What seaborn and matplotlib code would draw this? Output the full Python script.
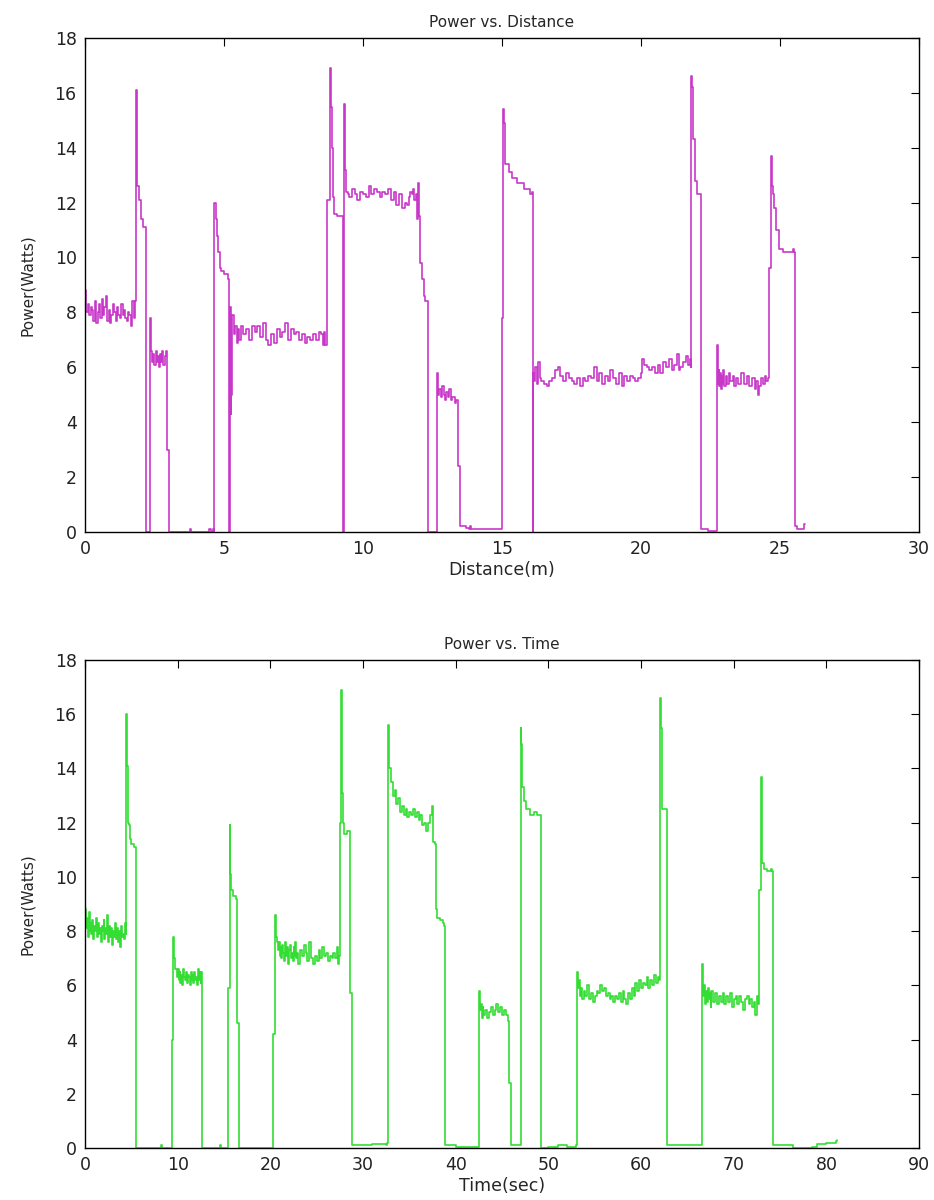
import numpy as np
import pandas as pd
import seaborn as sns
import matplotlib
matplotlib.use('Agg')
import matplotlib.pyplot as plt

# Power vs distance (m)
dist_m = [
    0.00, 0.05, 0.10, 0.15, 0.20, 0.25, 0.30, 0.35, 0.40, 0.45, 0.50, 0.55, 0.60, 0.65, 0.70, 0.75, 0.80, 0.85, 0.90, 0.95,
    1.00, 1.05, 1.10, 1.15, 1.20, 1.25, 1.30, 1.35, 1.40, 1.45, 1.50, 1.55, 1.60, 1.65, 1.70, 1.75, 1.80,
    1.82, 1.86, 1.88, 1.95, 2.00, 2.08, 2.18, 2.20, 2.34, 2.35, 2.38, 2.42, 2.46, 2.50, 2.54, 2.58, 2.62, 2.66, 2.70, 2.74,
    2.78, 2.82, 2.86, 2.90, 2.94, 2.95, 3.00, 3.03,
    3.78, 3.79, 3.80, 4.44, 4.45, 4.50, 4.52, 4.60, 4.63, 4.65, 4.70, 4.74, 4.80, 4.85, 4.90, 5.00, 5.10, 5.15, 5.18, 5.19,
    5.22, 5.23, 5.24, 5.25, 5.26, 5.27, 5.28, 5.30,
    5.35, 5.40, 5.45, 5.50, 5.55, 5.60, 5.70, 5.80, 5.90, 6.00, 6.10, 6.20, 6.30, 6.40, 6.50, 6.60, 6.70, 6.80, 6.90, 7.00,
    7.10, 7.20, 7.30, 7.40, 7.50, 7.60, 7.70, 7.80, 7.90, 8.00, 8.10, 8.20, 8.30, 8.40, 8.50, 8.55, 8.60, 8.65, 8.70,
    8.72, 8.80, 8.84, 8.88, 8.92, 8.96, 9.05, 9.20, 9.27, 9.28, 9.30, 9.31, 9.34, 9.38, 9.45,
    9.50, 9.60, 9.70, 9.80, 9.90, 10.00, 10.10, 10.20, 10.30, 10.40, 10.50, 10.60, 10.70, 10.80, 10.90, 11.00, 11.10,
    11.20, 11.30, 11.40, 11.50, 11.60, 11.65, 11.70, 11.75, 11.80, 11.85, 11.90, 11.95, 11.97, 12.00,
    12.05, 12.12, 12.18, 12.22, 12.30, 12.33, 12.35, 12.66, 12.67, 12.70, 12.75, 12.80, 12.85, 12.90, 12.95, 13.00,
    13.05, 13.10, 13.15, 13.20, 13.30, 13.35, 13.40, 13.42, 13.48, 13.50, 13.60, 13.70, 13.80, 13.85, 13.90, 14.50, 15.00,
    15.01, 15.05, 15.08, 15.12, 15.25, 15.37, 15.55, 15.80, 16.00, 16.08, 16.10, 16.12,
    16.13, 16.15, 16.20, 16.25, 16.30, 16.35, 16.40,
    16.50, 16.60, 16.70, 16.80, 16.90, 17.00, 17.10, 17.20, 17.30, 17.40, 17.50, 17.60, 17.70, 17.80, 17.90, 18.00,
    18.10, 18.20, 18.30, 18.40, 18.50, 18.60, 18.70, 18.80, 18.90, 19.00, 19.10, 19.20, 19.30, 19.40, 19.50, 19.60,
    19.70, 19.80, 19.90, 20.00,
    20.05, 20.10, 20.20, 20.30, 20.40, 20.50, 20.60, 20.70, 20.80, 20.90, 21.00, 21.10, 21.20, 21.30,
    21.35, 21.40, 21.50, 21.60, 21.70, 21.75, 21.78,
    21.80, 21.85, 21.88, 21.95, 22.00, 22.12, 22.14, 22.40, 22.60, 22.73,
    22.74, 22.78, 22.80, 22.82, 22.85, 22.88, 22.90, 22.92, 22.95, 23.00, 23.05, 23.10, 23.15, 23.20, 23.30, 23.35,
    23.40, 23.50, 23.60, 23.70, 23.80, 23.90, 24.00, 24.10, 24.15, 24.20, 24.25, 24.30, 24.40, 24.45, 24.50, 24.58,
    24.60, 24.67, 24.70, 24.75, 24.80, 24.85, 24.95, 25.10, 25.30, 25.45, 25.50, 25.52, 25.60, 25.85, 25.87, 25.90,
]
dist_power = [
    8.8, 8.0, 8.3, 7.9, 8.2, 8.1, 7.7, 8.4, 7.6, 8.0, 8.3, 7.8, 8.5, 7.9, 8.2, 8.6, 7.7, 8.1, 7.6, 7.9,
    8.3, 8.0, 7.7, 8.2, 7.9, 7.8, 8.3, 7.9, 8.1, 7.8, 7.7, 8.0, 7.9, 7.5, 8.4, 7.8, 8.4,
    16.1, 15.3, 12.6, 12.1, 11.4, 11.1, 11.1, 0.0, 0.0, 7.8, 6.6, 6.2, 6.5, 6.1, 6.6, 6.2, 6.4, 6.0, 6.5, 6.2,
    6.6, 6.1, 6.4, 6.6, 6.2, 3.0, 3.0, 0.0,
    0.0, 0.1, 0.0, 0.0, 0.1, 0.1, 0.0, 0.1, 0.0, 12.0, 11.4, 10.8, 10.2, 9.6, 9.5, 9.4, 9.4, 9.2, 9.2, 0.0,
    0.0, 8.2, 4.3, 7.8, 5.0, 7.6, 6.5, 7.9,
    7.2, 7.5, 6.9, 7.4, 7.0, 7.5, 7.2, 7.4, 7.0, 7.5, 7.3, 7.5, 7.1, 7.6, 7.0, 6.8, 7.2, 6.9, 7.4, 7.1,
    7.3, 7.6, 7.0, 7.4, 7.2, 7.3, 7.0, 7.2, 6.9, 7.1, 7.0, 7.2, 7.0, 7.3, 7.2, 6.8, 7.3, 6.8, 7.1,
    12.1, 16.9, 15.5, 14.0, 12.2, 11.6, 11.5, 11.5, 11.4, 0.0, 0.0, 15.6, 13.2, 12.4, 12.3,
    12.2, 12.5, 12.3, 12.1, 12.4, 12.3, 12.2, 12.6, 12.3, 12.5, 12.4, 12.2, 12.4, 12.3, 12.5, 12.1, 12.4,
    11.9, 12.3, 11.8, 12.0, 11.9, 12.2, 12.4, 12.3, 12.5, 12.1, 12.3, 11.4, 12.7, 11.5,
    9.8, 9.2, 8.6, 8.4, 8.4, 8.3, 0.0, 0.0, 5.8, 5.0, 5.2, 4.9, 5.3, 5.0, 4.8, 5.1,
    4.9, 5.2, 4.8, 4.9, 4.7, 4.8, 4.6, 2.4, 2.4, 0.2, 0.2, 0.15, 0.1, 0.2, 0.1, 0.1, 0.1,
    7.8, 15.4, 14.9, 13.4, 13.1, 12.9, 12.7, 12.5, 12.3, 12.4, 0.0, 0.0,
    5.8, 5.5, 6.0, 5.4, 6.2, 5.6, 5.5,
    5.4, 5.3, 5.5, 5.6, 5.9, 6.0, 5.7, 5.5, 5.8, 5.6, 5.5, 5.4, 5.6, 5.3, 5.6, 5.5,
    5.7, 5.6, 6.0, 5.5, 5.8, 5.4, 5.7, 5.5, 5.9, 5.6, 5.4, 5.8, 5.3, 5.7, 5.5, 5.7,
    5.6, 5.5, 5.6, 5.8,
    6.3, 6.1, 6.0, 5.9, 6.0, 5.8, 6.1, 5.8, 6.2, 6.0, 6.3, 5.9, 6.1, 6.5,
    5.9, 6.0, 6.2, 6.4, 6.1, 6.3, 6.0,
    16.6, 16.2, 14.3, 12.8, 12.3, 12.3, 0.1, 0.05, 0.05, 0.1,
    6.8, 5.4, 5.9, 5.3, 5.8, 5.2, 5.7, 5.4, 5.9, 5.3, 5.7, 5.4, 5.8, 5.5, 5.7, 5.3,
    5.6, 5.4, 5.8, 5.4, 5.7, 5.3, 5.6, 5.2, 5.5, 5.0, 5.3, 5.6, 5.4, 5.7, 5.5, 5.6,
    9.6, 13.7, 12.6, 12.3, 11.8, 11.0, 10.3, 10.2, 10.2, 10.3, 10.2, 0.2, 0.1, 0.1, 0.3, 0.3,
]

# Power vs time (sec)
time_s = [
    0.0, 0.1, 0.2, 0.3, 0.4, 0.5, 0.6, 0.7, 0.8, 0.9, 1.0, 1.1, 1.2, 1.3, 1.4, 1.5, 1.6, 1.7, 1.8, 1.9,
    2.0, 2.1, 2.2, 2.3, 2.4, 2.5, 2.6, 2.7, 2.8, 2.9, 3.0, 3.1, 3.2, 3.3, 3.4, 3.5, 3.6, 3.7, 3.8, 3.9,
    4.0, 4.1, 4.2, 4.3, 4.4,
    4.45, 4.55, 4.62, 4.75, 4.85, 5.00, 5.30, 5.45, 5.50, 8.20, 8.25, 8.30, 9.30, 9.35, 9.50, 9.55, 9.65, 9.75,
    9.9, 10.0, 10.1, 10.2, 10.3, 10.4, 10.5, 10.6, 10.7, 10.8, 10.9, 11.0, 11.1, 11.2, 11.3, 11.4, 11.5, 11.6,
    11.7, 11.8, 11.9, 12.0, 12.1, 12.2, 12.3, 12.4, 12.5, 12.55, 12.60, 14.60, 14.62, 14.65, 15.35,
    15.40, 15.55, 15.60, 15.70, 15.80, 16.00, 16.30, 16.40, 16.60, 16.65, 20.20, 20.25, 20.30, 20.45, 20.50, 20.60, 20.70,
    20.8, 20.9, 21.0, 21.1, 21.2, 21.3, 21.4, 21.5, 21.6, 21.7, 21.8, 21.9, 22.0, 22.1, 22.2, 22.3, 22.4, 22.5,
    22.6, 22.7, 22.8, 22.9, 23.0,
    23.2, 23.4, 23.6, 23.8, 24.0, 24.2, 24.4, 24.6, 24.8, 25.0, 25.2, 25.4, 25.6, 25.8, 26.0, 26.2, 26.4, 26.6,
    26.8, 27.0, 27.2, 27.30, 27.45,
    27.50, 27.60, 27.65, 27.75, 27.85, 28.00, 28.30, 28.55, 28.60, 28.75, 28.80, 30.00, 31.00, 32.50, 32.60,
    32.70, 32.85, 33.00, 33.2, 33.4, 33.6, 33.8, 34.0, 34.2, 34.4, 34.6, 34.8, 35.0, 35.2, 35.4, 35.6, 35.8, 36.0,
    36.2, 36.4, 36.6, 36.8, 37.0, 37.2, 37.4,
    37.50, 37.60, 37.75, 37.85, 38.00, 38.30, 38.60, 38.70, 38.80, 40.00, 42.40,
    42.50, 42.60, 42.70, 42.80, 42.90, 43.00, 43.2, 43.4, 43.6, 43.8, 44.0, 44.2, 44.4, 44.6, 44.8, 45.0, 45.2,
    45.4, 45.6, 45.75, 45.80, 45.95, 46.00, 46.95,
    47.00, 47.10, 47.20, 47.35, 47.60, 48.00, 48.40, 48.80, 49.10, 49.20, 50.00, 51.00, 52.00, 53.00,
    53.05, 53.20, 53.30, 53.40, 53.50, 53.60, 53.80,
    54.0, 54.2, 54.4, 54.6, 54.8, 55.0, 55.2, 55.4, 55.6, 55.8, 56.0, 56.2, 56.4, 56.6, 56.8, 57.0, 57.2, 57.4,
    57.6, 57.8, 58.0, 58.2, 58.4, 58.6, 58.8, 59.0, 59.2, 59.4, 59.6, 59.8, 60.0, 60.2, 60.4, 60.6, 60.8, 61.0,
    61.2, 61.4, 61.6, 61.8, 61.95,
    62.00, 62.20, 62.30, 62.65, 62.75, 64.00, 66.50,
    66.60, 66.70, 66.80, 66.90, 67.00, 67.10, 67.20, 67.30, 67.40, 67.50, 67.60,
    67.8, 68.0, 68.2, 68.4, 68.6, 68.8, 69.0, 69.2, 69.4, 69.6, 69.8, 70.0, 70.2, 70.4, 70.6, 70.8, 71.0, 71.2,
    71.4, 71.6, 71.8, 72.0, 72.2, 72.30, 72.50, 72.65,
    72.70, 72.85, 72.90, 73.00, 73.10, 73.30, 73.60, 74.00, 74.10, 74.20, 76.30, 76.40, 78.50, 79.00, 80.00,
    81.00, 81.10,
]
time_power = [
    8.8, 8.1, 8.5, 7.8, 8.7, 8.0, 8.3, 7.9, 8.4, 7.7, 8.2, 8.0, 8.5, 7.8, 8.3, 7.9, 8.1, 7.6, 8.2, 8.0,
    8.4, 7.7, 8.1, 7.9, 8.6, 7.6, 8.2, 7.8, 8.1, 7.5, 8.0, 7.8, 8.3, 7.7, 7.9, 8.1, 7.6, 8.0, 7.4, 8.2,
    7.8, 7.9, 7.7, 8.3, 7.9,
    16.0, 14.1, 12.0, 11.9, 11.4, 11.2, 11.1, 11.0, 0.0, 0.0, 0.1, 0.0, 0.0, 4.0, 4.0, 7.8, 7.0, 6.6,
    6.3, 6.6, 6.2, 6.5, 6.1, 6.4, 6.0, 6.6, 6.3, 6.2, 6.5, 6.1, 6.4, 6.3, 6.0, 6.5, 6.2, 6.4,
    6.1, 6.5, 6.2, 6.3, 6.0, 6.6, 6.2, 6.5, 6.1, 6.5, 0.0, 0.0, 0.1, 0.0, 0.0,
    5.9, 5.9, 11.9, 10.1, 9.5, 9.3, 9.2, 4.6, 4.6, 0.0, 0.0, 0.3, 4.2, 4.2, 8.6, 7.8, 7.6,
    7.3, 7.6, 7.1, 7.4, 7.0, 7.5, 7.2, 6.9, 7.6, 7.1, 7.4, 6.8, 7.3, 7.5, 7.0, 7.2, 6.9, 7.4,
    7.1, 7.6, 7.0, 7.2, 6.8,
    7.3, 7.1, 7.5, 7.2, 6.9, 7.6, 7.0, 6.8, 7.1, 6.9, 7.3, 7.0, 7.4, 7.1, 7.2, 6.9, 7.1, 7.0,
    7.2, 7.0, 7.4, 6.8, 7.1,
    12.0, 12.0, 16.9, 13.1, 12.0, 11.6, 11.7, 11.6, 5.7, 5.7, 0.1, 0.1, 0.15, 0.1, 0.2,
    15.6, 14.0, 13.5, 13.0, 13.2, 12.7, 12.9, 12.4, 12.6, 12.3, 12.5, 12.2, 12.4, 12.3, 12.5, 12.2, 12.4, 12.1,
    12.3, 11.9, 12.0, 11.7, 12.0, 12.3, 12.6,
    12.6, 11.3, 11.2, 8.8, 8.5, 8.4, 8.3, 8.2, 0.1, 0.05, 0.05,
    5.8, 5.1, 5.3, 4.8, 5.2, 4.9, 5.1, 4.8, 5.0, 5.2, 4.9, 5.1, 5.3, 5.0, 5.2, 4.9, 5.1,
    4.9, 4.7, 4.5, 2.4, 2.4, 0.1, 0.1,
    15.5, 14.9, 13.3, 12.8, 12.5, 12.3, 12.4, 12.3, 12.3, 0.0, 0.05, 0.1, 0.05, 0.1,
    6.5, 5.9, 6.2, 5.6, 5.9, 5.5, 5.8,
    5.6, 6.0, 5.5, 5.7, 5.4, 5.6, 5.8, 5.7, 6.0, 5.8, 5.9, 5.6, 5.7, 5.5, 5.6, 5.4, 5.6, 5.5,
    5.7, 5.4, 5.8, 5.5, 5.3, 5.7, 5.5, 5.9, 5.6, 6.1, 5.8, 6.2, 5.9, 6.1, 6.0, 6.3, 5.9, 6.2,
    6.0, 6.4, 6.1, 6.3, 6.2,
    16.6, 15.5, 12.5, 12.5, 0.1, 0.1, 0.1,
    6.8, 5.6, 6.0, 5.3, 5.8, 5.4, 5.9, 5.5, 5.7, 5.2, 5.8,
    5.4, 5.7, 5.3, 5.6, 5.4, 5.7, 5.3, 5.6, 5.4, 5.7, 5.2, 5.5, 5.6, 5.3, 5.6, 5.4, 5.1, 5.5,
    5.6, 5.3, 5.5, 5.2, 5.4, 4.9, 5.6, 5.3,
    9.5, 9.5, 13.7, 12.0, 10.5, 10.3, 10.2, 10.3, 10.2, 0.1, 0.1, 0.0, 0.05, 0.15, 0.2,
    0.25, 0.3,
]

assert len(dist_m) == len(dist_power)
assert len(time_s) == len(time_power)

dist_df = pd.DataFrame({'Distance': dist_m, 'Power': dist_power})
time_df = pd.DataFrame({'Time': time_s, 'Power': time_power})

sns.set_style('white')
plt.rcParams['font.family'] = ['DejaVu Sans']

fig = plt.figure(figsize=(9.34, 12), dpi=100)
ax1 = fig.add_axes([0.091, 0.5567, 0.893, 0.4117])
ax2 = fig.add_axes([0.091, 0.0433, 0.893, 0.4067])

# sampled signal -> draw it as held steps like the original trace
sns.lineplot(data=dist_df, x='Distance', y='Power', ax=ax1, sort=False, estimator=None,
             color='#c838c8', linewidth=1.2, drawstyle='steps-post')
sns.lineplot(data=time_df, x='Time', y='Power', ax=ax2, sort=False, estimator=None,
             color='#33dd33', linewidth=1.2, drawstyle='steps-post')

def style_axes(ax, xmax, xstep, title, xlabel):
    ax.set_xlim(0, xmax)
    ax.set_ylim(0, 18)
    ax.set_xticks(np.arange(0, xmax + 1, xstep))
    ax.set_yticks(np.arange(0, 19, 2))
    ax.tick_params(direction='in', top=True, right=True, length=6, width=0.8,
                   labelsize=12.5, colors='black', labelcolor='#222222', pad=6)
    for s in ax.spines.values():
        s.set_visible(True)
        s.set_color('black')
        s.set_linewidth(1.0)
    ax.set_title(title, fontsize=11, pad=8)
    ax.set_xlabel(xlabel, fontsize=12.5, labelpad=2)
    ax.set_ylabel('Power(Watts)', fontsize=11, labelpad=14)

style_axes(ax1, 30, 5, 'Power vs. Distance', 'Distance(m)')
style_axes(ax2, 90, 10, 'Power vs. Time', 'Time(sec)')

fig.savefig('out.png', dpi=100)
